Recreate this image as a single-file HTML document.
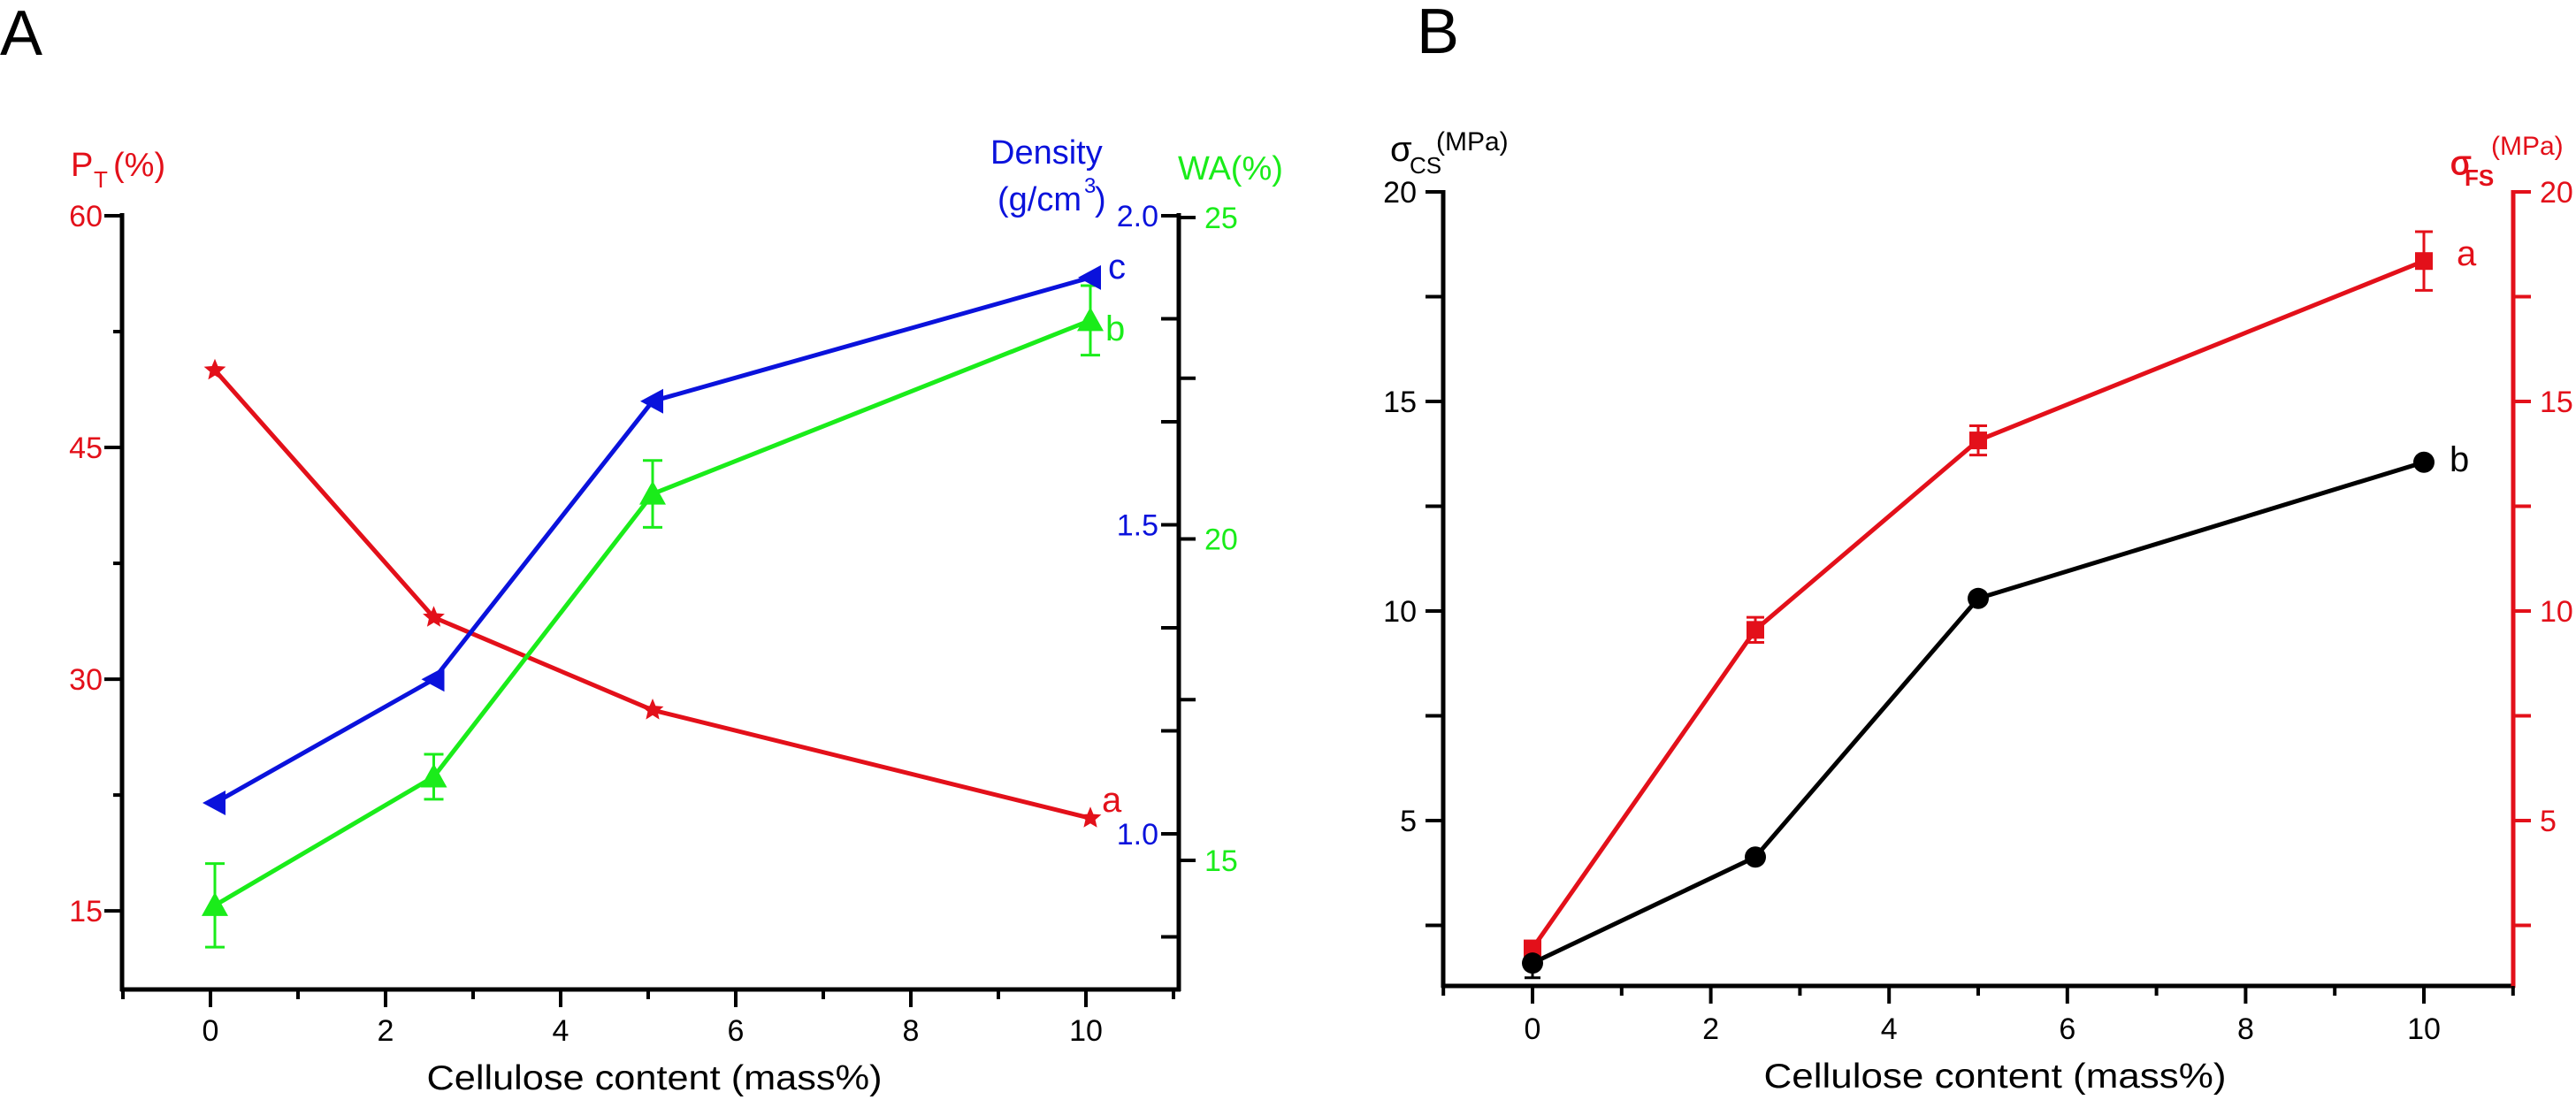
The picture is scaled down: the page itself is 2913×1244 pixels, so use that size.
<!DOCTYPE html>
<html><head><meta charset="utf-8"><style>
html,body{margin:0;padding:0;background:#fff;}
svg{display:block;font-family:"Liberation Sans",Arial,sans-serif;}
</style></head><body>
<svg id="fig" width="2913" height="1244" viewBox="0 0 2913 1244" xmlns="http://www.w3.org/2000/svg">
<rect width="2913" height="1244" fill="#fff"/>
<g id="A"></g>
<g id="B"></g>
</svg>
<script>
// ---- Panel A data ----
const xCats = [0, 2.5, 5, 10];
const ptVals = [50, 34, 28, 21];
const densVals = [1.05, 1.25, 1.70, 1.90];
const waVals = [14.3, 16.3, 20.7, 23.4];
const waErr = [0.65, 0.35, 0.52, 0.54];
const xTickLabels = [0, 2, 4, 6, 8, 10];
const ptTicks = [15, 30, 45, 60];
const densTicks = [1.0, 1.5, 2.0];
const waTicks = [15, 20, 25];
// ---- Panel B data ----
const csVals = [1.6, 4.13, 10.3, 13.55];
const csErr = [0.35, 0, 0, 0];
const fsVals = [1.95, 9.55, 14.07, 18.35];
const fsErr = [0.15, 0.3, 0.35, 0.7];
const bTicks = [5, 10, 15, 20];

const RED = "#e3101a", BLUE = "#0a12dc", GREEN = "#1aec1a", BLK = "#000";
const NS = "http://www.w3.org/2000/svg";
function el(parent, tag, attrs, name) {
  const e = document.createElementNS(NS, tag);
  for (const k in attrs) e.setAttribute(k, attrs[k]);
  
  
  parent.appendChild(e);
  return e;
}
function txt(parent, x, y, s, size, color, anchor, name, extra) {
  const t = el(parent, 'text', Object.assign({x: x, y: y, 'font-size': size, fill: color, 'text-anchor': anchor || 'start'}, extra || {}), name);
  t.textContent = s;
  return t;
}
function starPath(cx, cy, r) {
  let d = '';
  for (let i = 0; i < 10; i++) {
    const rr = i % 2 === 0 ? r : r * 0.45;
    const a = -Math.PI / 2 + i * Math.PI / 5;
    d += (i ? 'L' : 'M') + (cx + rr * Math.cos(a)).toFixed(1) + ',' + (cy + rr * Math.sin(a)).toFixed(1);
  }
  return d + 'Z';
}

// ================= Panel A =================
const A = document.getElementById('A');
const xA = v => 238 + 99 * v;
const mA = v => xA(v) + 5;
const yPT = v => 244 + (60 - v) * 17.47;
const yD = v => 244 + (2 - v) * 699;
const yW = v => 246 + (25 - v) * 72.7;

txt(A, 0, 62, 'A', 72, BLK, 'start', 'panel-a-label');
el(A, 'line', {x1: 138, y1: 241, x2: 138, y2: 1121, stroke: BLK, 'stroke-width': 5}, 'left-y-axis-line');
el(A, 'line', {x1: 136, y1: 1119, x2: 1335, y2: 1119, stroke: BLK, 'stroke-width': 5}, 'x-axis-line');
el(A, 'line', {x1: 1333, y1: 241, x2: 1333, y2: 1121, stroke: BLK, 'stroke-width': 5}, 'right-y-axis-line');
for (let k = -1; k <= 11; k++) {
  const major = k % 2 === 0;
  el(A, 'line', {x1: xA(k), y1: 1119, x2: xA(k), y2: major ? 1139 : 1130, stroke: BLK, 'stroke-width': 4}, 'x-tick');
}
xTickLabels.forEach(v => txt(A, xA(v), 1177, String(v), 34, BLK, 'middle', 'x-tick-label'));
txt(A, 740, 1232, 'Cellulose content (mass%)', 39, BLK, 'middle', 'x-axis-title', {textLength: 515, lengthAdjust: 'spacingAndGlyphs'});
for (let v = 15; v <= 60; v += 7.5) {
  const major = v % 15 === 0;
  el(A, 'line', {x1: 138, y1: yPT(v), x2: major ? 118 : 128, y2: yPT(v), stroke: BLK, 'stroke-width': 4}, 'left-y-tick');
}
ptTicks.forEach(v => txt(A, 116, yPT(v) + 12, String(v), 34, RED, 'end', 'left-y-tick-label'));
txt(A, 80, 199, 'P', 38, RED, 'start', 'left-y-axis-title');
txt(A, 106, 212, 'T', 26, RED, 'start', 'left-y-axis-title-subscript');
txt(A, 128, 199, '(%)', 38, RED, 'start', 'left-y-axis-title-unit');
for (let i = 0; i <= 7; i++) {
  const v = 2 - i / 6;
  el(A, 'line', {x1: 1313, y1: yD(v), x2: 1333, y2: yD(v), stroke: BLK, 'stroke-width': 4}, 'density-tick');
}
densTicks.forEach(v => txt(A, 1310, yD(v) + 12, v.toFixed(1), 34, BLUE, 'end', 'density-tick-label'));
txt(A, 1120, 185, 'Density', 38, BLUE, 'start', 'density-axis-title');
txt(A, 1128, 238, '(g/cm', 38, BLUE, 'start', 'density-axis-unit');
txt(A, 1226, 218, '3', 24, BLUE, 'start', 'density-axis-unit-sup');
txt(A, 1238, 238, ')', 38, BLUE, 'start', 'density-axis-unit-close');
for (let v = 15; v <= 25; v += 2.5) {
  el(A, 'line', {x1: 1333, y1: yW(v), x2: 1352, y2: yW(v), stroke: BLK, 'stroke-width': 4}, 'wa-tick');
}
waTicks.forEach(v => txt(A, 1362, yW(v) + 12, String(v), 34, GREEN, 'start', 'wa-tick-label'));
txt(A, 1332, 203, 'WA(%)', 38, GREEN, 'start', 'wa-axis-title');

function poly(parent, xs, ys, color, name) {
  el(parent, 'polyline', {points: xs.map((x, i) => x + ',' + ys[i]).join(' '), fill: 'none', stroke: color, 'stroke-width': 5, 'stroke-linejoin': 'round'}, name);
}
poly(A, xCats.map(mA), ptVals.map(yPT), RED, 'pt-line');
poly(A, xCats.map(mA), densVals.map(yD), BLUE, 'density-line');
poly(A, xCats.map(mA), waVals.map(yW), GREEN, 'wa-line');
xCats.forEach((c, i) => {
  const x = mA(c), y1 = yW(waVals[i] + waErr[i]), y2 = yW(waVals[i] - waErr[i]);
  el(A, 'line', {x1: x, y1: y1, x2: x, y2: y2, stroke: GREEN, 'stroke-width': 3}, 'wa-error-bar');
  el(A, 'line', {x1: x - 11, y1: y1, x2: x + 11, y2: y1, stroke: GREEN, 'stroke-width': 3}, 'wa-error-cap');
  el(A, 'line', {x1: x - 11, y1: y2, x2: x + 11, y2: y2, stroke: GREEN, 'stroke-width': 3}, 'wa-error-cap');
});
xCats.forEach((c, i) => {
  const x = mA(c);
  el(A, 'path', {d: starPath(x, yPT(ptVals[i]), 13), fill: RED}, 'pt-point');
  const yd = yD(densVals[i]);
  el(A, 'path', {d: `M${x - 14},${yd} L${x + 12},${yd - 14} L${x + 12},${yd + 14} Z`, fill: BLUE}, 'density-point');
  const yw = yW(waVals[i]);
  el(A, 'path', {d: `M${x},${yw - 15} L${x + 15},${yw + 12} L${x - 15},${yw + 12} Z`, fill: GREEN}, 'wa-point');
});
txt(A, 1253, 315, 'c', 40, BLUE, 'start', 'density-significance-label');
txt(A, 1250, 385, 'b', 40, GREEN, 'start', 'wa-significance-label');
txt(A, 1246, 918, 'a', 40, RED, 'start', 'pt-significance-label');

// ================= Panel B =================
const B = document.getElementById('B');
const xB = v => 1733 + 100.8 * v;
const yB = v => 217 + (20 - v) * 47.4;
txt(B, 1602, 60, 'B', 72, BLK, 'start', 'panel-b-label');
el(B, 'line', {x1: 1632, y1: 215, x2: 1632, y2: 1117, stroke: BLK, 'stroke-width': 5}, 'left-y-axis-line');
el(B, 'line', {x1: 1630, y1: 1115, x2: 2844, y2: 1115, stroke: BLK, 'stroke-width': 5}, 'x-axis-line');
el(B, 'line', {x1: 2842, y1: 215, x2: 2842, y2: 1117, stroke: RED, 'stroke-width': 5}, 'right-y-axis-line');
for (let k = -1; k <= 11; k++) {
  const major = k % 2 === 0;
  el(B, 'line', {x1: xB(k), y1: 1115, x2: xB(k), y2: major ? 1135 : 1126, stroke: BLK, 'stroke-width': 4}, 'x-tick');
}
xTickLabels.forEach(v => txt(B, xB(v), 1175, String(v), 34, BLK, 'middle', 'x-tick-label'));
txt(B, 2256, 1230, 'Cellulose content (mass%)', 39, BLK, 'middle', 'x-axis-title', {textLength: 523, lengthAdjust: 'spacingAndGlyphs'});
for (let v = 2.5; v <= 20; v += 2.5) {
  el(B, 'line', {x1: 1632, y1: yB(v), x2: 1612, y2: yB(v), stroke: BLK, 'stroke-width': 4}, 'left-y-tick');
  el(B, 'line', {x1: 2842, y1: yB(v), x2: 2862, y2: yB(v), stroke: RED, 'stroke-width': 4}, 'right-y-tick');
}
bTicks.forEach(v => {
  txt(B, 1602, yB(v) + 12, String(v), 34, BLK, 'end', 'left-y-tick-label');
  txt(B, 2872, yB(v) + 12, String(v), 34, RED, 'start', 'right-y-tick-label');
});
txt(B, 1572, 182, 'σ', 40, BLK, 'start', 'left-y-axis-title');
txt(B, 1594, 196, 'CS', 26, BLK, 'start', 'left-y-axis-title-subscript');
txt(B, 1624, 170, '(MPa)', 30, BLK, 'start', 'left-y-axis-title-unit');
txt(B, 2771, 197, 'σ', 38, RED, 'start', 'right-y-axis-title', {stroke: RED, 'stroke-width': 1});
txt(B, 2787, 210, 'FS', 26, RED, 'start', 'right-y-axis-title-subscript', {'font-weight': 'bold'});
txt(B, 2817, 175, '(MPa)', 30, RED, 'start', 'right-y-axis-title-unit');

poly(B, xCats.map(xB), fsVals.map(yB), RED, 'fs-line');
poly(B, xCats.map(xB), csVals.map(yB), BLK, 'cs-line');
xCats.forEach((c, i) => {
  const x = xB(c);
  if (csErr[i] > 0) {
    const y2 = yB(csVals[i] - csErr[i]);
    el(B, 'line', {x1: x, y1: yB(csVals[i]), x2: x, y2: y2, stroke: BLK, 'stroke-width': 3}, 'cs-error-bar');
    el(B, 'line', {x1: x - 9, y1: y2, x2: x + 9, y2: y2, stroke: BLK, 'stroke-width': 3}, 'cs-error-cap');
  }
  const y1 = yB(fsVals[i] + fsErr[i]), y2 = yB(fsVals[i] - fsErr[i]);
  el(B, 'line', {x1: x, y1: y1, x2: x, y2: y2, stroke: RED, 'stroke-width': 3}, 'fs-error-bar');
  el(B, 'line', {x1: x - 10, y1: y1, x2: x + 10, y2: y1, stroke: RED, 'stroke-width': 3}, 'fs-error-cap');
  el(B, 'line', {x1: x - 10, y1: y2, x2: x + 10, y2: y2, stroke: RED, 'stroke-width': 3}, 'fs-error-cap');
  el(B, 'rect', {x: x - 10, y: yB(fsVals[i]) - 10, width: 20, height: 20, fill: RED}, 'fs-point');
  el(B, 'circle', {cx: x, cy: yB(csVals[i]), r: 12, fill: BLK}, 'cs-point');
});
txt(B, 2778, 300, 'a', 40, RED, 'start', 'fs-significance-label');
txt(B, 2770, 533, 'b', 40, BLK, 'start', 'cs-significance-label');
</script>
</body></html>
